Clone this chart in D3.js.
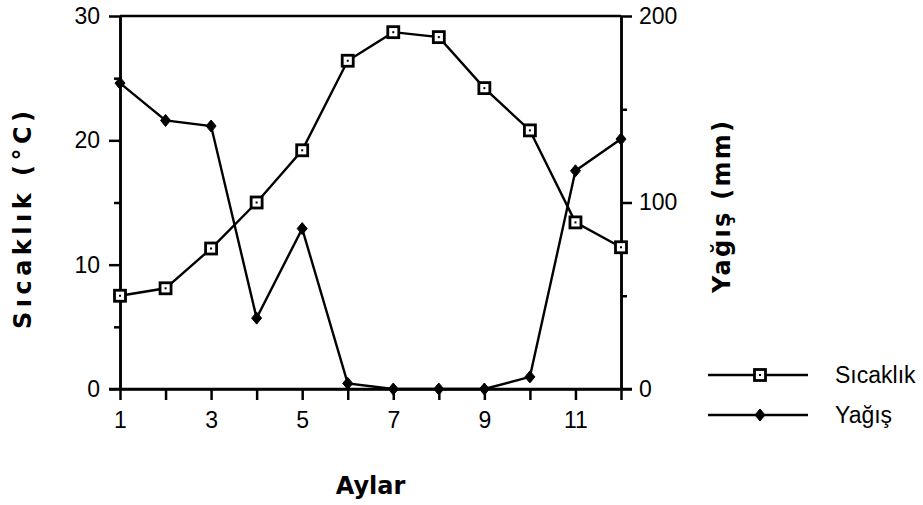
<!DOCTYPE html>
<html>
<head>
<meta charset="utf-8">
<script src="https://cdn.jsdelivr.net/npm/d3@7"></script>
<style>
  body { margin: 0; background: #fff; }
  svg { display: block; }
  .tick text { font-family: "Liberation Sans", Arial, sans-serif; font-size: 23px; fill: #000; }
  .title { font-family: "DejaVu Sans", sans-serif; font-weight: bold; font-size: 24px; fill: #000; }
  .legend text { font-family: "Liberation Sans", Arial, sans-serif; font-size: 23px; fill: #000; }
</style>
</head>
<body>
<svg id="chart"></svg>
<script>
// months on the x axis
const months = [1, 2, 3, 4, 5, 6, 7, 8, 9, 10, 11, 12];
// temperature (°C), left axis
const sicaklik = [7.5, 8.1, 11.3, 15.0, 19.2, 26.4, 28.7, 28.3, 24.2, 20.8, 13.4, 11.4];
// precipitation (mm), right axis
const yagis = [164, 144, 141, 38, 86, 3, 0, 0, 0, 6.5, 117, 134];

const leftTicks = [0, 10, 20, 30];
const leftMinor = [5, 15, 25];
const rightTicks = [0, 100, 200];
const rightMinor = [50, 150];

const width = 923, height = 505;
const margin = {top: 16, right: 302, bottom: 116, left: 120};
const innerW = width - margin.left - margin.right;
const innerH = height - margin.top - margin.bottom;

const svg = d3.select("#chart").attr("width", width).attr("height", height);
const g = svg.append("g").attr("transform", `translate(${margin.left},${margin.top})`);

const x = d3.scaleLinear().domain([1, 12]).range([0, innerW]);
const yL = d3.scaleLinear().domain([0, 30]).range([innerH, 0]);
const yR = d3.scaleLinear().domain([0, 200]).range([innerH, 0]);

function styleAxis(sel) {
  sel.select(".domain").attr("stroke", "#000").attr("stroke-width", 2.5);
  sel.selectAll(".tick line").attr("stroke", "#000").attr("stroke-width", 2.5);
  sel.selectAll(".tick text").attr("font-family", null).attr("font-size", null);
}

// top frame line
g.append("line")
  .attr("x1", 0).attr("x2", innerW).attr("y1", 0).attr("y2", 0)
  .attr("stroke", "#000").attr("stroke-width", 2.5);

// left axis
g.append("g")
  .call(d3.axisLeft(yL).tickValues(leftTicks).tickSize(11).tickSizeOuter(0).tickPadding(9))
  .call(styleAxis);
g.append("g")
  .call(d3.axisLeft(yL).tickValues(leftMinor).tickSize(6).tickSizeOuter(0).tickFormat(""))
  .call(styleAxis);

// right axis
g.append("g").attr("transform", `translate(${innerW},0)`)
  .call(d3.axisRight(yR).tickValues(rightTicks).tickSize(11).tickSizeOuter(0).tickPadding(7))
  .call(styleAxis);
g.append("g").attr("transform", `translate(${innerW},0)`)
  .call(d3.axisRight(yR).tickValues(rightMinor).tickSize(6).tickSizeOuter(0).tickFormat(""))
  .call(styleAxis);

// bottom axis
g.append("g").attr("transform", `translate(0,${innerH})`)
  .call(d3.axisBottom(x).tickValues(months).tickSize(11).tickSizeOuter(0).tickPadding(12)
    .tickFormat(d => d % 2 ? d : ""))
  .call(styleAxis);
// extend x axis line past both y axes
g.append("line")
  .attr("x1", -11).attr("x2", innerW + 11).attr("y1", innerH).attr("y2", innerH)
  .attr("stroke", "#000").attr("stroke-width", 2.5);

// lines
const lineT = d3.line().x((d, i) => x(months[i])).y(d => yL(d));
const lineP = d3.line().x((d, i) => x(months[i])).y(d => yR(d));

g.append("path").datum(yagis)
  .attr("d", lineP).attr("fill", "none").attr("stroke", "#000").attr("stroke-width", 2.4);
g.append("path").datum(sicaklik)
  .attr("d", lineT).attr("fill", "none").attr("stroke", "#000").attr("stroke-width", 2.4);

function diamond(sel) {
  sel.append("path")
    .attr("d", "M0,-6L5,0L0,6L-5,0Z")
    .attr("fill", "#000").attr("stroke", "#000").attr("stroke-width", 1);
}
function square(sel) {
  sel.append("rect")
    .attr("x", -5.5).attr("y", -5.5).attr("width", 11).attr("height", 11)
    .attr("fill", "#fff").attr("stroke", "#000").attr("stroke-width", 2.8);
  sel.append("rect")
    .attr("x", -1).attr("y", -1).attr("width", 2).attr("height", 2)
    .attr("fill", "#000");
}

g.selectAll(".pm").data(yagis).join("g").attr("class", "pm")
  .attr("transform", (d, i) => `translate(${x(months[i])},${yR(d)})`)
  .call(diamond);
g.selectAll(".tm").data(sicaklik).join("g").attr("class", "tm")
  .attr("transform", (d, i) => `translate(${x(months[i])},${yL(d)})`)
  .call(square);

// axis titles
svg.append("text").attr("class", "title")
  .attr("transform", `translate(23,220) rotate(-90)`)
  .attr("text-anchor", "middle").attr("dominant-baseline", "central")
  .attr("textLength", 218).attr("lengthAdjust", "spacing")
  .text("Sıcaklık (°C)");
svg.append("text").attr("class", "title")
  .attr("transform", `translate(722,207) rotate(-90)`)
  .attr("text-anchor", "middle").attr("dominant-baseline", "central")
  .attr("textLength", 172).attr("lengthAdjust", "spacing")
  .text("Yağış (mm)");
svg.append("text").attr("class", "title")
  .attr("x", margin.left + innerW / 2).attr("y", 494)
  .attr("text-anchor", "middle")
  .text("Aylar");

// legend
const legend = svg.append("g").attr("class", "legend");
const items = [
  {name: "Sıcaklık", y: 375, mark: square},
  {name: "Yağış", y: 415, mark: diamond}
];
items.forEach(it => {
  legend.append("line")
    .attr("x1", 708).attr("x2", 808).attr("y1", it.y).attr("y2", it.y)
    .attr("stroke", "#000").attr("stroke-width", 2.4);
  legend.append("g").attr("transform", `translate(760,${it.y})`).call(it.mark);
  legend.append("text").attr("x", 835).attr("y", it.y + 8).text(it.name);
});
</script>
</body>
</html>
